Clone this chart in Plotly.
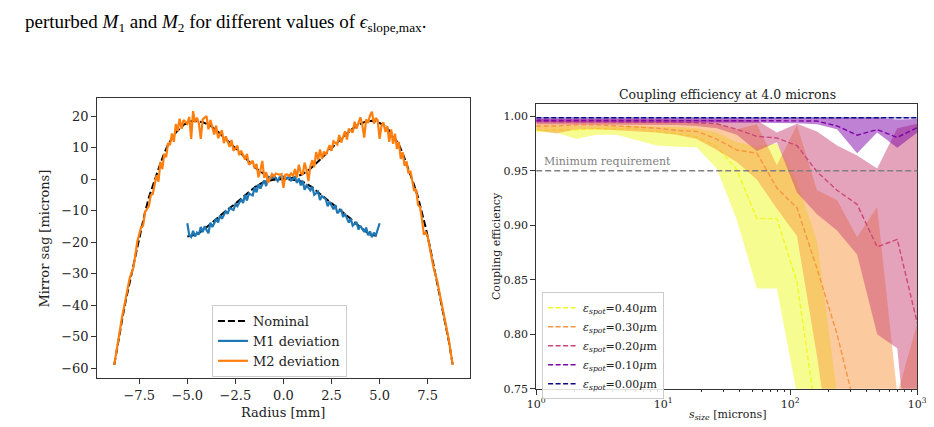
import plotly.graph_objects as go

# ---- left panel: mirror sag profiles ----
r_nominal_m2 = [-8.8, -8.6, -8.4, -8.2, -8.0, -7.8, -7.6, -7.4, -7.2, -7.0, -6.8, -6.6, -6.4,
                -6.2, -6.0, -5.6, -5.2, -4.8, -4.6, -4.2, -3.8, -3.4, -3.0, -2.6, -2.2, -1.8,
                -1.4, -1.0, -0.6, -0.3, 0.0, 0.3, 0.6, 1.0, 1.4, 1.8, 2.2, 2.6, 3.0, 3.4,
                3.8, 4.2, 4.6, 4.8, 5.2, 5.6, 6.0, 6.2, 6.4, 6.6, 6.8, 7.0, 7.2, 7.4, 7.6,
                7.8, 8.0, 8.2, 8.4, 8.6, 8.8]
sag_nominal_m2 = [-59.0, -51.5, -45.0, -38.5, -33.0, -27.0, -21.0, -15.5, -10.5, -5.8, -2.0, 1.6, 5.0,
                  8.2, 11.0, 14.8, 17.2, 18.4, 18.5, 18.1, 17.0, 15.0, 12.8, 10.5, 8.1, 5.6,
                  3.3, 1.6, 0.6, 0.15, 0.0, 0.15, 0.6, 1.6, 3.3, 5.6, 8.1, 10.5, 12.8, 15.0,
                  17.0, 18.1, 18.5, 18.4, 17.2, 14.8, 11.0, 8.2, 5.0, 1.6, -2.0, -5.8, -10.5, -15.5, -21.0,
                  -27.0, -33.0, -38.5, -45.0, -51.5, -59.0]

r_nominal_m1 = [-5.0, -4.5, -4.0, -3.5, -3.0, -2.5, -2.0, -1.5, -1.0, -0.5, 0.0,
                0.5, 1.0, 1.5, 2.0, 2.5, 3.0, 3.5, 4.0, 4.5, 5.0]
sag_nominal_m1 = [-18.2, -17.6, -15.3, -12.6, -10.1, -7.8, -5.2, -2.6, -0.8, -0.2, 0.0,
                  -0.2, -0.8, -2.6, -5.2, -7.8, -10.1, -12.6, -15.3, -17.6, -18.2]

r_m1 = [-5.0, -4.95, -4.9, -4.8, -4.7, -4.6, -4.5, -4.4, -4.3, -4.2, -4.1, -4.0, -3.9, -3.8,
        -3.7, -3.6, -3.5, -3.4, -3.3, -3.2, -3.0, -2.9, -2.8, -2.6, -2.5, -2.4, -2.2, -2.1,
        -2.0, -1.9, -1.8, -1.6, -1.5, -1.4, -1.3, -1.2, -1.0, -0.9, -0.8, -0.6, -0.5, -0.3,
        -0.2, 0.0, 0.2, 0.3, 0.4, 0.6, 0.7, 0.8, 0.9, 1.0, 1.1, 1.2, 1.4, 1.5, 1.6, 1.8,
        1.9, 2.0, 2.2, 2.3, 2.4, 2.6, 2.7, 2.8, 3.0, 3.1, 3.2, 3.4, 3.5, 3.6, 3.8, 3.9,
        4.0, 4.2, 4.3, 4.4, 4.5, 4.6, 4.7, 4.8, 4.9, 5.0]
sag_m1 = [-14.0, -16.0, -17.8, -18.4, -16.4, -18.2, -17.0, -17.6, -15.2, -16.8, -15.0, -16.2, -17.2, -13.8,
          -15.2, -14.0, -12.6, -13.8, -11.6, -12.6, -10.2, -11.0, -9.2, -9.8, -8.0, -8.6, -6.4, -7.6,
          -5.0, -6.8, -4.6, -5.2, -2.6, -4.2, -1.6, -3.0, -0.4, -2.2, 0.8, 0.4, 1.2, -0.6,
          0.6, 0.8, 0.2, 1.0, -0.4, 0.6, -1.2, 0.2, -2.0, -0.6, -3.4, -2.0, -3.6, -2.4, -5.0, -4.0,
          -6.6, -5.4, -6.4, -8.6, -7.2, -9.6, -8.2, -10.8, -9.6, -12.0, -11.0, -13.8, -12.6, -14.8, -13.6, -16.0,
          -14.8, -16.8, -15.4, -17.8, -16.6, -18.4, -17.0, -18.0, -15.8, -14.0]

r_m2 = [-8.8, -8.6, -8.4, -8.2, -8.0, -7.8, -7.6, -7.4, -7.3, -7.2, -7.0, -6.9, -6.8, -6.6,
        -6.5, -6.4, -6.3, -6.2, -6.1, -6.0, -5.9, -5.8, -5.7, -5.6, -5.5, -5.4, -5.3, -5.2,
        -5.0, -4.9, -4.8, -4.7, -4.6, -4.5, -4.4, -4.3, -4.2, -4.0, -3.9, -3.8, -3.6, -3.5,
        -3.4, -3.2, -3.1, -3.0, -2.8, -2.7, -2.6, -2.4, -2.3, -2.2, -2.0, -1.9, -1.8, -1.6,
        -1.5, -1.4, -1.3, -1.2, -1.1, -1.0, -0.9, -0.8, -0.6, -0.5, -0.4, -0.2, -0.1, 0.0,
        0.1, 0.2, 0.3, 0.4, 0.5, 0.6, 0.7, 0.8, 0.9, 1.0, 1.1, 1.2, 1.3, 1.4, 1.5, 1.6,
        1.7, 1.8, 1.9, 2.0, 2.1, 2.2, 2.4, 2.5, 2.6, 2.8, 2.9, 3.0, 3.2, 3.3, 3.4, 3.6,
        3.7, 3.8, 4.0, 4.1, 4.2, 4.3, 4.4, 4.5, 4.6, 4.7, 4.8, 4.9, 5.0, 5.1, 5.2, 5.3,
        5.4, 5.5, 5.6, 5.7, 5.8, 5.9, 6.0, 6.1, 6.2, 6.3, 6.4, 6.5, 6.6, 6.8, 6.9, 7.0,
        7.1, 7.2, 7.3, 7.4, 7.5, 7.6, 7.8, 8.0, 8.2, 8.4, 8.6, 8.8]
sag_m2 = [-59.0, -51.2, -44.0, -37.8, -31.5, -28.0, -19.8, -15.2, -14.8, -10.5, -8.6, -5.0, -4.8, 1.2,
          -0.8, 5.5, 3.2, 8.0, 7.0, 11.5, 10.8, 14.5, 11.8, 17.5, 15.2, 19.2, 16.0, 18.8,
          17.6, 19.8, 12.8, 21.6, 18.0, 19.5, 17.8, 12.8, 19.0, 20.0, 15.8, 18.8, 14.2, 17.0,
          13.0, 15.5, 11.4, 13.6, 10.2, 12.4, 9.0, 10.6, 7.6, 9.0, 6.2, 8.0, 4.6, 5.8,
          3.4, 4.8, 0.6, 2.8, 5.8, 0.4, 2.2, -1.2, 1.6, 0.8, 1.8, 1.4, 1.6, -2.8,
          1.4, 1.5, 1.0, 1.8, 0.9, 3.2, 0.6, 4.6, 2.0, 1.4, 5.2, 2.8, -0.6, 4.2, 6.0, 3.8,
          8.6, 6.2, 9.4, 6.4, 8.8, 7.6, 10.8, 9.0, 12.0, 11.0, 14.0, 11.6, 15.2, 12.6, 16.0, 14.8,
          18.2, 16.0, 19.6, 17.2, 13.2, 19.0, 17.8, 20.2, 21.4, 17.6, 19.4, 18.6, 12.8, 17.0, 18.0, 15.0,
          16.8, 11.8, 15.8, 11.2, 14.4, 9.6, 11.8, 6.4, 8.6, 4.2, 5.6, 1.8, 2.6, -3.8, -3.2, -8.2,
          -8.8, -12.6, -17.6, -17.0, -18.2, -21.5, -28.0, -32.5, -38.8, -44.6, -51.0, -59.0]

# ---- right panel: coupling efficiency vs spot size ----
s_size = [1.0, 1.438, 2.069, 2.976, 4.281, 6.158, 8.859, 12.74, 18.33, 26.37,
          37.93, 54.56, 78.48, 112.9, 162.4, 233.6, 336.0, 483.3, 695.2, 1000.0]

eff_040_med = [0.987, 0.987, 0.9875, 0.9885, 0.9885, 0.988, 0.986, 0.984, 0.981, 0.972,
               0.951, 0.906, 0.906, 0.848, 0.72, 0.60, 0.52, 0.45, 0.40, 0.36]
eff_040_lo = [0.9855, 0.985, 0.979, 0.983, 0.983, 0.978, 0.973, 0.972, 0.9715, 0.952,
              0.905, 0.842, 0.842, 0.745, 0.60, 0.48, 0.40, 0.34, 0.30, 0.26]
eff_040_hi = [0.991, 0.991, 0.991, 0.991, 0.991, 0.991, 0.990, 0.990, 0.989, 0.985,
              0.976, 0.972, 0.975, 0.94, 0.885, 0.745, 0.66, 0.58, 0.52, 0.47]

eff_030_med = [0.991, 0.991, 0.992, 0.992, 0.991, 0.990, 0.989, 0.987, 0.986, 0.979,
               0.969, 0.966, 0.934, 0.916, 0.86, 0.80, 0.72, 0.65, 0.60, 0.55]
eff_030_lo = [0.987, 0.984, 0.988, 0.988, 0.987, 0.986, 0.985, 0.983, 0.979, 0.969,
              0.958, 0.942, 0.915, 0.89, 0.78, 0.65, 0.55, 0.48, 0.42, 0.38]
eff_030_hi = [0.995, 0.995, 0.995, 0.995, 0.995, 0.995, 0.995, 0.995, 0.994, 0.993,
              0.988, 0.9925, 0.955, 0.992, 0.932, 0.923, 0.889, 0.917, 0.745, 0.81]

eff_020_med = [0.995, 0.995, 0.995, 0.995, 0.995, 0.995, 0.995, 0.9945, 0.994, 0.993,
               0.988, 0.9815, 0.980, 0.973, 0.949, 0.932, 0.919, 0.880, 0.887, 0.810]
eff_020_lo = [0.9925, 0.9925, 0.9925, 0.9925, 0.9925, 0.9925, 0.992, 0.992, 0.991, 0.989,
              0.983, 0.968, 0.976, 0.93, 0.91, 0.895, 0.873, 0.80, 0.787, 0.60]
eff_020_hi = [0.9975, 0.9975, 0.9975, 0.9975, 0.9975, 0.9975, 0.9975, 0.9975, 0.9975, 0.997,
              0.997, 0.996, 0.985, 0.993, 0.986, 0.973, 0.964, 0.952, 0.989, 0.993]

eff_010_med = [0.9962, 0.9962, 0.9963, 0.9963, 0.9963, 0.9963, 0.9962, 0.9962, 0.9962, 0.9961,
               0.9960, 0.9960, 0.9958, 0.9957, 0.9955, 0.991, 0.9826, 0.9877, 0.9805, 0.9895]
eff_010_lo = [0.9945, 0.9945, 0.9945, 0.9945, 0.9945, 0.9945, 0.9945, 0.9945, 0.9945, 0.9943,
              0.9942, 0.9940, 0.9938, 0.9935, 0.9925, 0.988, 0.966, 0.985, 0.971, 0.985]
eff_010_hi = [0.998, 0.998, 0.998, 0.998, 0.998, 0.998, 0.998, 0.998, 0.998, 0.998,
              0.998, 0.998, 0.998, 0.998, 0.998, 0.998, 0.998, 0.9985, 0.997, 0.9975]

eff_000_med = [0.9985] * 20
eff_000_lo = [0.998] * 20
eff_000_hi = [0.999] * 20

spot_labels = ["0.40", "0.30", "0.20", "0.10", "0.00"]
spot_colors = ["#f0f921", "#f89540", "#cc4778", "#7e03a8", "#0d0887"]
band_colors = ["rgba(240,249,33,0.5)", "rgba(248,149,64,0.5)", "rgba(204,71,120,0.5)",
               "rgba(126,3,168,0.5)", "rgba(13,8,135,0.5)"]
series = [(eff_040_lo, eff_040_hi, eff_040_med),
          (eff_030_lo, eff_030_hi, eff_030_med),
          (eff_020_lo, eff_020_hi, eff_020_med),
          (eff_010_lo, eff_010_hi, eff_010_med),
          (eff_000_lo, eff_000_hi, eff_000_med)]

W, H = 934, 427
SERIF = "DejaVu Serif"
INK = "#222222"
FRAME = "#333333"

fig = go.Figure()

# left panel traces
fig.add_trace(go.Scatter(x=r_nominal_m2, y=sag_nominal_m2, mode="lines", name="Nominal",
                         line=dict(color="black", width=2, dash="7px,3px"),
                         xaxis="x", yaxis="y", legend="legend"))
fig.add_trace(go.Scatter(x=r_nominal_m1, y=sag_nominal_m1, mode="lines", showlegend=False,
                         line=dict(color="black", width=2, dash="7px,3px"),
                         xaxis="x", yaxis="y"))
fig.add_trace(go.Scatter(x=r_m1, y=sag_m1, mode="lines", name="M1 deviation",
                         line=dict(color="#1f77b4", width=2.2),
                         xaxis="x", yaxis="y", legend="legend"))
fig.add_trace(go.Scatter(x=r_m2, y=sag_m2, mode="lines", name="M2 deviation",
                         line=dict(color="#ff7f0e", width=2.2),
                         xaxis="x", yaxis="y", legend="legend"))

# right panel traces: band then median for each pointing error
for (lo, hi, med), lab, col, bcol in zip(series, spot_labels, spot_colors, band_colors):
    fig.add_trace(go.Scatter(x=s_size, y=lo, mode="lines", line=dict(width=0, color=bcol),
                             showlegend=False, hoverinfo="skip", xaxis="x2", yaxis="y2"))
    fig.add_trace(go.Scatter(x=s_size, y=hi, mode="lines", line=dict(width=0, color=bcol),
                             fill="tonexty", fillcolor=bcol,
                             showlegend=False, hoverinfo="skip", xaxis="x2", yaxis="y2"))
    fig.add_trace(go.Scatter(x=s_size, y=med, mode="lines",
                             name="<i>ε</i><sub><i>spot</i></sub>=" + lab + "<i>μ</i>m",
                             line=dict(color=col, width=1.4, dash="5px,2.5px"),
                             xaxis="x2", yaxis="y2", legend="legend2"))

def px_x(p):
    return p / W

def px_y(p):
    return 1 - p / H

axis_common = dict(showline=True, linecolor=FRAME, linewidth=1.2, mirror=True,
                   ticks="outside", tickcolor=FRAME, ticklen=5, tickwidth=1,
                   showgrid=False, zeroline=False)

minor_vals = []
for dec in [1, 10, 100]:
    for m in range(2, 10):
        minor_vals.append(dec * m)

fig.update_layout(
    width=W, height=H,
    margin=dict(l=0, r=0, t=0, b=0),
    paper_bgcolor="white", plot_bgcolor="white",
    font=dict(family=SERIF, color=INK, size=13),
    xaxis=dict(domain=[px_x(82), px_x(462)], range=[-9.68, 9.68],
               tickvals=[-7.5, -5.0, -2.5, 0.0, 2.5, 5.0, 7.5], tickformat=".1f",
               tickfont=dict(size=13), anchor="y", **axis_common),
    yaxis=dict(domain=[px_y(376), px_y(92)], range=[-63.1, 25.6],
               tickvals=[-60, -50, -40, -30, -20, -10, 0, 10, 20],
               tickfont=dict(size=13), anchor="x", **axis_common),
    xaxis2=dict(domain=[px_x(530), px_x(919)], type="log", range=[0, 3],
                tickvals=[1, 10, 100, 1000],
                ticktext=["10<sup>0</sup>", "10<sup>1</sup>", "10<sup>2</sup>", "10<sup>3</sup>"],
                tickfont=dict(size=11), anchor="y2",
                minor=dict(tickvals=minor_vals, ticks="outside", ticklen=2.5,
                           tickcolor=FRAME, tickwidth=0.8),
                **axis_common),
    yaxis2=dict(domain=[px_y(387), px_y(98)], range=[0.75, 1.0108],
                tickvals=[0.75, 0.80, 0.85, 0.90, 0.95, 1.00], tickformat=".2f",
                tickfont=dict(size=11), anchor="x2", **axis_common),
    legend=dict(x=px_x(199), y=px_y(302), xanchor="left", yanchor="top",
                bgcolor="rgba(255,255,255,0.85)", bordercolor="#cccccc", borderwidth=1,
                font=dict(size=13, family=SERIF), tracegroupgap=0, traceorder="normal"),
    legend2=dict(x=px_x(536), y=px_y(289), xanchor="left", yanchor="top",
                 bgcolor="rgba(255,255,255,0.85)", bordercolor="#cccccc", borderwidth=1,
                 font=dict(size=11, family=SERIF), tracegroupgap=0, traceorder="normal"),
    showlegend=True,
)

# minimum requirement line at 0.95
fig.add_shape(type="line", xref="x2 domain", yref="y2", x0=0, x1=1, y0=0.95, y1=0.95,
              line=dict(color="gray", width=1.5, dash="6px,3px"))

annotations = [
    dict(text="perturbed <i>M</i><sub>1</sub> and <i>M</i><sub>2</sub> for different values of "
              "<i>ϵ</i><sub>slope,max</sub>.",
         x=px_x(6), y=px_y(15), xanchor="left", yanchor="middle",
         font=dict(family="Liberation Serif", size=19, color="black")),
    dict(text="Radius [mm]", x=px_x(272), y=px_y(411), xanchor="center", yanchor="middle",
         font=dict(size=13)),
    dict(text="Mirror sag [microns]", x=px_x(28), y=px_y(234), xanchor="center", yanchor="middle",
         textangle=-90, font=dict(size=13)),
    dict(text="Coupling efficiency at 4.0 microns", x=px_x(725), y=px_y(88),
         xanchor="center", yanchor="middle", font=dict(size=12.5)),
    dict(text="<i>s<sub>size</sub></i> [microns]", x=px_x(725), y=px_y(414),
         xanchor="center", yanchor="middle", font=dict(size=11)),
    dict(text="Coupling efficiency", x=px_x(489), y=px_y(242), xanchor="center",
         yanchor="middle", textangle=-90, font=dict(size=11)),
    dict(text="Minimum requirement", x=px_x(536), y=px_y(156), xanchor="left",
         yanchor="middle", font=dict(size=11, color="gray")),
]
for a in annotations:
    a.setdefault("xref", "paper")
    a.setdefault("yref", "paper")
    a["showarrow"] = False
    fig.add_annotation(**a)

fig.write_html("out.html")
